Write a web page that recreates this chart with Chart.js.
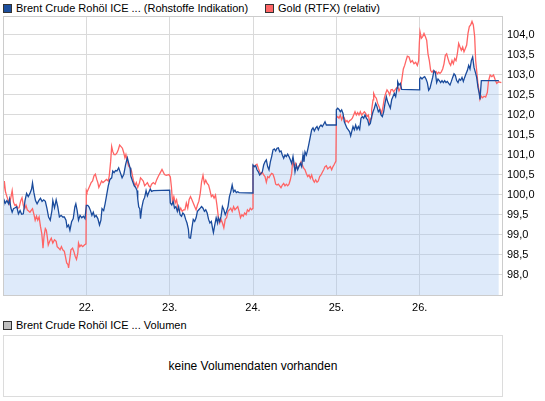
<!DOCTYPE html>
<html>
<head>
    <title>Brent Crude vs Gold</title>
    <script src="https://cdn.jsdelivr.net/npm/chart.js"></script>
    <style>
        body {
            margin: 0;
            width: 545px;
            height: 401px;
            background: #fff;
            font-family: "Liberation Sans", Arial, sans-serif;
            position: relative;
            overflow: hidden;
        }
        .legend {
            position: absolute;
            font-size: 11px;
            color: #000;
            white-space: nowrap;
            line-height: 12px;
        }
        .legend span.box {
            display: inline-block;
            width: 7px;
            height: 7px;
            border: 1px solid #333;
            vertical-align: -1px;
            margin-right: 4px;
        }
        #chartWrap {
            position: absolute;
            left: 0;
            top: 0;
        }
        #volBox {
            position: absolute;
            left: 3px;
            top: 335px;
            width: 498px;
            height: 60px;
            border: 1px solid #dcdcdc;
            font-size: 12px;
            text-align: center;
            line-height: 60px;
            color: #000;
        }
    </style>
</head>
<body>
    <div class="legend" style="left:3px; top:2px;">
        <span class="box" style="background:#1c4f9e;"></span>Brent Crude Rohöl ICE ... (Rohstoffe Indikation)
    </div>
    <div class="legend" style="left:265px; top:2px;">
        <span class="box" style="background:#ff6666;"></span>Gold (RTFX) (relativ)
    </div>

    <div id="chartWrap">
        <canvas id="priceChart" width="545" height="318"></canvas>
    </div>

    <div class="legend" style="left:3px; top:319px;">
        <span class="box" style="background:#c0c0c0;"></span>Brent Crude Rohöl ICE ... Volumen
    </div>
    <div id="volBox">keine Volumendaten vorhanden</div>

    <script>
        // x values are days of the month, y values relative performance
        const xTicks = [22, 23, 24, 25, 26];
        const yTicks = [98, 98.5, 99, 99.5, 100, 100.5, 101, 101.5, 102, 102.5, 103, 103.5, 104];

        const brentDays = [
            21.000, 21.016, 21.028, 21.047, 21.067, 21.079, 21.094, 21.110, 21.126, 21.146,
            21.165, 21.185, 21.205, 21.224, 21.244, 21.264, 21.283, 21.303, 21.323, 21.343,
            21.354, 21.370, 21.390, 21.409, 21.429, 21.449, 21.469, 21.488, 21.508, 21.528,
            21.547, 21.567, 21.587, 21.598, 21.618, 21.638, 21.657, 21.677, 21.697, 21.717,
            21.736, 21.756, 21.768, 21.787, 21.803, 21.823, 21.843, 21.862, 21.874, 21.890,
            21.906, 21.925, 21.945, 21.965, 21.984, 22.000, 22.017, 22.033, 22.050, 22.067,
            22.083, 22.100, 22.117, 22.138, 22.158, 22.175, 22.188, 22.208, 22.225, 22.242,
            22.263, 22.283, 22.304, 22.317, 22.333, 22.350, 22.367, 22.388, 22.408, 22.429,
            22.450, 22.471, 22.492, 22.508, 22.525, 22.533, 22.554, 22.575, 22.592, 22.608,
            22.617, 22.629, 22.642, 22.650, 22.667, 22.683, 22.700, 22.717, 22.733, 22.750,
            22.767, 22.783, 22.804, 23.000, 23.008, 23.025, 23.042, 23.058, 23.075, 23.092,
            23.108, 23.125, 23.142, 23.158, 23.175, 23.192, 23.208, 23.225, 23.233, 23.250,
            23.267, 23.283, 23.300, 23.317, 23.333, 23.350, 23.367, 23.383, 23.400, 23.417,
            23.433, 23.450, 23.467, 23.483, 23.500, 23.517, 23.525, 23.542, 23.558, 23.575,
            23.583, 23.600, 23.617, 23.633, 23.650, 23.667, 23.683, 23.700, 23.717, 23.733,
            23.750, 23.767, 23.783, 23.800, 23.817, 23.833, 24.000, 24.000, 24.016, 24.032,
            24.048, 24.064, 24.080, 24.096, 24.112, 24.128, 24.144, 24.160, 24.176, 24.192,
            24.208, 24.224, 24.240, 24.256, 24.272, 24.288, 24.304, 24.320, 24.336, 24.352,
            24.368, 24.384, 24.400, 24.416, 24.432, 24.448, 24.464, 24.480, 24.492, 24.504,
            24.520, 24.536, 24.552, 24.568, 24.584, 24.600, 24.612, 24.624, 24.640, 24.656,
            24.672, 24.688, 24.704, 24.720, 24.736, 24.752, 24.768, 24.784, 24.800, 24.816,
            24.832, 24.848, 24.864, 24.880, 25.000, 25.000, 25.016, 25.032, 25.048, 25.064,
            25.080, 25.096, 25.112, 25.128, 25.144, 25.160, 25.172, 25.184, 25.200, 25.216,
            25.232, 25.248, 25.264, 25.280, 25.296, 25.312, 25.328, 25.344, 25.360, 25.376,
            25.392, 25.408, 25.424, 25.440, 25.456, 25.472, 25.488, 25.504, 25.520, 25.536,
            25.552, 25.568, 25.584, 25.600, 25.616, 25.632, 25.648, 25.664, 25.680, 25.696,
            25.712, 25.728, 25.736, 25.752, 25.768, 25.784, 26.000, 26.000, 26.012, 26.028,
            26.044, 26.060, 26.076, 26.092, 26.108, 26.124, 26.140, 26.156, 26.172, 26.188,
            26.204, 26.220, 26.236, 26.252, 26.268, 26.284, 26.300, 26.316, 26.332, 26.348,
            26.364, 26.380, 26.396, 26.412, 26.428, 26.444, 26.460, 26.476, 26.492, 26.508,
            26.524, 26.540, 26.556, 26.572, 26.588, 26.604, 26.620, 26.636, 26.652, 26.668,
            26.684, 26.700, 26.716, 26.724, 26.740, 26.950
        ];
        const brentValues = [
            99.66, 99.86, 99.80, 99.86, 99.78, 99.90, 99.68, 99.57, 99.66, 99.68,
            99.71, 99.53, 99.61, 99.52, 99.53, 99.86, 100.04, 99.96, 100.04, 100.15,
            100.30, 100.07, 99.86, 99.78, 99.86, 99.92, 99.84, 99.88, 99.84, 99.66,
            99.45, 99.37, 99.61, 99.86, 99.68, 99.88, 99.71, 99.45, 99.49, 99.45,
            99.45, 99.37, 99.20, 99.25, 99.12, 99.33, 99.41, 99.70, 99.78, 99.61,
            99.37, 99.49, 99.43, 99.47, 99.41, 99.74, 99.74, 99.70, 99.61, 99.49,
            99.57, 99.45, 99.49, 99.41, 99.25, 99.37, 99.66, 99.61, 99.78, 99.98,
            100.23, 100.39, 100.43, 100.60, 100.56, 100.61, 100.60, 100.68, 100.56, 100.43,
            100.52, 100.76, 100.93, 100.80, 100.68, 100.48, 100.35, 100.23, 100.19, 100.11,
            99.90, 99.70, 99.66, 99.41, 99.70, 99.86, 99.94, 100.11, 99.98, 100.07,
            100.15, 100.09, 100.11, 100.12, 99.80, 99.75, 99.84, 99.67, 99.71, 99.59,
            99.71, 99.51, 99.47, 99.55, 99.51, 99.39, 99.30, 99.14, 98.93, 98.92,
            99.18, 99.39, 99.34, 99.43, 99.59, 99.63, 99.67, 99.71, 99.67, 99.59,
            99.63, 99.55, 99.39, 99.30, 99.34, 99.14, 99.06, 99.26, 99.43, 99.30,
            99.43, 99.34, 99.47, 99.71, 99.63, 99.51, 99.59, 99.71, 99.96, 100.08,
            100.25, 100.08, 100.12, 100.06, 100.08, 100.06, 100.05, 100.75, 100.71, 100.73,
            100.63, 100.58, 100.50, 100.54, 100.58, 100.75, 100.83, 100.88, 100.71, 100.63,
            100.83, 100.96, 101.13, 101.15, 101.10, 101.17, 101.18, 101.08, 101.10, 101.00,
            100.92, 101.00, 100.96, 101.02, 100.96, 100.88, 100.79, 100.96, 100.79, 100.58,
            100.75, 100.63, 100.71, 100.79, 100.71, 101.00, 100.83, 101.08, 101.00, 101.13,
            101.29, 101.46, 101.63, 101.68, 101.60, 101.67, 101.71, 101.63, 101.71, 101.75,
            101.71, 101.77, 101.83, 101.75, 101.75, 102.13, 102.17, 102.14, 102.08, 102.13,
            102.04, 101.83, 101.75, 101.67, 101.63, 101.58, 101.48, 101.58, 101.71, 101.63,
            101.75, 101.64, 101.71, 101.64, 101.92, 101.96, 101.92, 102.00, 101.92, 101.88,
            101.75, 101.79, 101.96, 102.08, 102.17, 102.29, 102.21, 102.08, 102.13, 102.00,
            101.96, 102.08, 102.29, 102.46, 102.33, 102.25, 102.17, 102.38, 102.46, 102.54,
            102.46, 102.67, 102.83, 102.75, 102.79, 102.64, 102.63, 102.90, 102.94, 102.90,
            102.94, 102.96, 102.90, 102.81, 102.62, 102.67, 102.81, 102.94, 103.11, 103.07,
            102.81, 102.90, 102.86, 102.81, 102.86, 102.81, 102.86, 102.81, 102.84, 102.79,
            102.75, 102.84, 102.94, 103.03, 102.99, 102.86, 102.81, 102.90, 102.87, 102.94,
            102.84, 102.94, 103.03, 103.11, 103.24, 103.15, 103.36, 103.45, 103.19, 103.07,
            102.94, 102.69, 102.52, 102.39, 102.86, 102.86
        ];

        const goldDays = [
            21.000, 21.016, 21.031, 21.047, 21.063, 21.079, 21.098, 21.110, 21.126, 21.142,
            21.157, 21.173, 21.193, 21.213, 21.228, 21.244, 21.260, 21.276, 21.291, 21.307,
            21.323, 21.343, 21.354, 21.374, 21.386, 21.402, 21.417, 21.433, 21.449, 21.465,
            21.472, 21.480, 21.492, 21.508, 21.520, 21.531, 21.543, 21.559, 21.579, 21.598,
            21.618, 21.638, 21.650, 21.669, 21.685, 21.701, 21.717, 21.736, 21.748, 21.764,
            21.780, 21.787, 21.803, 21.815, 21.835, 21.850, 21.866, 21.882, 21.898, 21.906,
            21.921, 21.937, 21.957, 21.976, 21.996, 22.000, 22.008, 22.025, 22.042, 22.058,
            22.075, 22.092, 22.108, 22.125, 22.138, 22.150, 22.167, 22.183, 22.200, 22.221,
            22.242, 22.263, 22.275, 22.292, 22.304, 22.317, 22.333, 22.350, 22.367, 22.383,
            22.400, 22.417, 22.433, 22.450, 22.463, 22.475, 22.492, 22.508, 22.525, 22.542,
            22.554, 22.567, 22.583, 22.600, 22.617, 22.638, 22.650, 22.667, 22.683, 22.700,
            22.717, 22.733, 22.750, 22.767, 22.783, 22.804, 22.825, 22.846, 22.867, 22.888,
            22.908, 22.938, 22.958, 22.992, 23.008, 23.021, 23.033, 23.050, 23.067, 23.083,
            23.100, 23.117, 23.133, 23.150, 23.167, 23.183, 23.200, 23.217, 23.233, 23.250,
            23.267, 23.283, 23.300, 23.317, 23.333, 23.350, 23.367, 23.383, 23.400, 23.417,
            23.433, 23.450, 23.467, 23.483, 23.500, 23.517, 23.533, 23.550, 23.567, 23.583,
            23.600, 23.617, 23.633, 23.650, 23.667, 23.683, 23.700, 23.717, 23.733, 23.750,
            23.767, 23.783, 23.800, 23.817, 23.833, 23.850, 23.867, 23.883, 23.900, 23.917,
            23.933, 23.950, 23.967, 23.983, 24.000, 24.000, 24.016, 24.032, 24.048, 24.064,
            24.080, 24.096, 24.112, 24.128, 24.144, 24.160, 24.176, 24.192, 24.208, 24.224,
            24.240, 24.256, 24.272, 24.288, 24.304, 24.320, 24.336, 24.352, 24.368, 24.384,
            24.400, 24.416, 24.432, 24.448, 24.464, 24.472, 24.480, 24.496, 24.512, 24.528,
            24.544, 24.560, 24.576, 24.592, 24.608, 24.624, 24.640, 24.656, 24.672, 24.688,
            24.704, 24.720, 24.736, 24.752, 24.768, 24.784, 24.800, 24.816, 24.832, 24.848,
            24.864, 24.880, 24.896, 24.912, 24.928, 24.944, 24.960, 24.976, 24.995, 25.000,
            25.016, 25.032, 25.048, 25.064, 25.080, 25.096, 25.112, 25.128, 25.144, 25.160,
            25.176, 25.192, 25.208, 25.224, 25.240, 25.256, 25.272, 25.288, 25.304, 25.320,
            25.336, 25.352, 25.368, 25.384, 25.400, 25.416, 25.424, 25.440, 25.448, 25.464,
            25.480, 25.496, 25.512, 25.528, 25.544, 25.560, 25.576, 25.592, 25.608, 25.624,
            25.640, 25.656, 25.672, 25.688, 25.704, 25.720, 25.736, 25.752, 25.772, 25.792,
            25.804, 25.820, 25.836, 25.852, 25.872, 25.892, 25.912, 25.932, 25.952, 25.972,
            25.988, 25.996, 26.004, 26.020, 26.036, 26.052, 26.068, 26.084, 26.100, 26.116,
            26.132, 26.148, 26.164, 26.180, 26.196, 26.212, 26.228, 26.244, 26.260, 26.276,
            26.292, 26.308, 26.324, 26.340, 26.356, 26.372, 26.388, 26.404, 26.420, 26.436,
            26.452, 26.468, 26.484, 26.500, 26.516, 26.532, 26.548, 26.564, 26.580, 26.596,
            26.612, 26.628, 26.644, 26.660, 26.672, 26.684, 26.700, 26.716, 26.724, 26.740,
            26.756, 26.772, 26.792, 26.812, 26.826, 26.846, 26.866, 26.886, 26.906, 26.925,
            26.946, 26.980
        ];
        const goldValues = [
            99.94, 100.35, 100.07, 99.96, 99.86, 99.78, 99.98, 100.11, 99.82, 99.74,
            99.76, 99.67, 99.68, 99.86, 99.93, 99.74, 99.66, 99.74, 99.63, 99.60,
            99.57, 99.63, 99.66, 99.49, 99.37, 99.47, 99.37, 99.45, 99.22, 99.04,
            98.88, 98.67, 98.96, 99.16, 99.12, 98.96, 98.75, 98.84, 98.92, 98.80,
            98.88, 98.84, 98.71, 98.67, 98.63, 98.71, 98.63, 98.59, 98.47, 98.30,
            98.26, 98.18, 98.43, 98.63, 98.67, 98.59, 98.47, 98.39, 98.55, 98.80,
            98.71, 98.75, 98.71, 98.75, 98.78, 100.11, 100.07, 100.15, 100.23, 100.31,
            100.35, 100.48, 100.52, 100.39, 100.31, 100.19, 100.27, 100.35, 100.31, 100.35,
            100.39, 100.35, 100.48, 100.84, 101.21, 101.09, 101.01, 101.01, 101.05, 101.13,
            101.25, 101.21, 101.17, 101.05, 100.93, 101.01, 100.84, 100.72, 100.68, 100.60,
            100.48, 100.35, 100.23, 100.31, 100.19, 100.31, 100.43, 100.39, 100.35, 100.23,
            100.27, 100.31, 100.23, 100.19, 100.27, 100.31, 100.27, 100.39, 100.48, 100.56,
            100.64, 100.51, 100.49, 100.51, 100.45, 100.20, 99.84, 99.96, 99.80, 99.88,
            99.67, 99.59, 99.67, 99.59, 99.63, 99.63, 99.80, 99.67, 99.88, 99.96,
            99.88, 99.80, 99.71, 99.63, 99.75, 99.84, 100.04, 100.33, 100.49, 100.29,
            100.37, 100.29, 100.25, 100.12, 99.96, 100.00, 99.92, 100.00, 99.75, 99.47,
            99.30, 99.39, 99.30, 99.18, 99.39, 99.43, 99.59, 99.63, 99.67, 99.59,
            99.71, 99.63, 99.67, 99.71, 99.59, 99.43, 99.51, 99.47, 99.55, 99.51,
            99.63, 99.59, 99.67, 99.63, 99.67, 100.73, 100.71, 100.75, 100.77, 100.67,
            100.58, 100.52, 100.57, 100.50, 100.46, 100.32, 100.46, 100.43, 100.50, 100.54,
            100.52, 100.42, 100.27, 100.25, 100.27, 100.23, 100.18, 100.25, 100.29, 100.23,
            100.27, 100.23, 100.27, 100.38, 100.54, 100.75, 100.83, 100.71, 100.79, 100.67,
            100.71, 100.75, 100.83, 100.75, 100.67, 100.63, 100.54, 100.46, 100.50, 100.42,
            100.50, 100.38, 100.32, 100.38, 100.32, 100.35, 100.46, 100.50, 100.57, 100.63,
            100.71, 100.73, 100.65, 100.68, 100.71, 100.63, 100.71, 100.77, 100.85, 101.92,
            101.96, 101.92, 102.00, 101.88, 101.96, 101.92, 101.83, 101.86, 101.81, 101.86,
            101.88, 101.92, 102.00, 102.08, 102.00, 102.06, 102.00, 102.08, 102.00, 102.04,
            102.08, 102.04, 101.96, 102.00, 101.83, 101.92, 102.13, 102.38, 102.54, 102.46,
            102.42, 102.29, 102.21, 102.13, 102.04, 102.21, 102.42, 102.54, 102.63, 102.58,
            102.50, 102.63, 102.64, 102.58, 102.63, 102.67, 102.71, 102.60, 102.69, 102.98,
            103.15, 103.24, 103.36, 103.47, 103.45, 103.32, 103.36, 103.28, 103.32, 103.24,
            103.36, 103.79, 104.08, 103.92, 103.96, 104.04, 103.96, 103.87, 103.53, 103.36,
            103.11, 103.07, 103.11, 103.07, 103.09, 103.03, 103.07, 103.04, 103.08, 103.15,
            103.28, 103.49, 103.53, 103.41, 103.30, 103.24, 103.36, 103.28, 103.41, 103.36,
            103.53, 103.79, 103.70, 103.62, 103.70, 103.58, 103.66, 103.75, 104.04, 104.21,
            104.25, 104.34, 104.25, 103.96, 103.36, 103.11, 102.77, 102.56, 102.39, 102.47,
            102.43, 102.47, 102.45, 102.56, 102.85, 103.00, 102.96, 103.00, 102.88, 102.79,
            102.83, 102.81
        ];

        const blueLine = '#1a4b9c';
        const redLine = '#ff6464';
        const gridColor = '#dadada';
        const tickFont = { family: '"Liberation Sans", Arial, sans-serif', size: 11 };

        function toPoints(xs, ys) {
            return xs.map((x, i) => ({ x: x, y: ys[i] }));
        }

        // plot frame on all four sides
        const framePlugin = {
            id: 'frame',
            afterDraw(chart) {
                const a = chart.chartArea;
                const g = chart.ctx;
                g.save();
                g.strokeStyle = '#cccccc';
                g.lineWidth = 1;
                g.strokeRect(Math.round(a.left) + 0.5, Math.round(a.top) + 0.5,
                    Math.round(a.right - a.left) - 1, Math.round(a.bottom - a.top) - 1);
                g.restore();
            }
        };

        const ctx = document.getElementById('priceChart').getContext('2d');
        const chart = new Chart(ctx, {
            type: 'line',
            data: {
                datasets: [{
                    label: 'Brent Crude Rohöl ICE ... (Rohstoffe Indikation)',
                    data: toPoints(brentDays, brentValues),
                    borderColor: blueLine,
                    borderWidth: 1.3,
                    backgroundColor: 'rgba(160, 195, 240, 0.35)',
                    fill: 'start',
                    pointRadius: 0,
                    tension: 0,
                    order: 1
                },
                {
                    label: 'Gold (RTFX) (relativ)',
                    data: toPoints(goldDays, goldValues),
                    borderColor: redLine,
                    borderWidth: 1.3,
                    fill: false,
                    pointRadius: 0,
                    tension: 0,
                    order: 2
                }]
            },
            options: {
                responsive: false,
                animation: false,
                layout: { padding: { left: 3, top: 16, right: 0, bottom: 0 } },
                plugins: {
                    legend: { display: false },
                    tooltip: { enabled: false },
                    filler: { drawTime: 'beforeDatasetsDraw' }
                },
                scales: {
                    x: {
                        type: 'linear',
                        min: 21,
                        max: 27,
                        afterBuildTicks: s => { s.ticks = xTicks.map(v => ({ value: v })); },
                        afterFit: s => { s.height = 22; },
                        grid: { color: gridColor, drawTicks: false },
                        border: { display: false },
                        ticks: {
                            padding: 5,
                            color: '#000',
                            font: tickFont,
                            maxRotation: 0,
                            callback: v => v + '.'
                        }
                    },
                    y: {
                        position: 'right',
                        min: 97.475,
                        max: 104.475,
                        afterBuildTicks: s => { s.ticks = yTicks.map(v => ({ value: v })); },
                        afterFit: s => { s.width = 42; },
                        grid: { color: gridColor, drawTicks: false },
                        border: { display: false },
                        ticks: {
                            padding: 4,
                            color: '#000',
                            font: tickFont,
                            callback: v => v.toFixed(1).replace('.', ',')
                        }
                    }
                }
            },
            plugins: [framePlugin]
        });
    </script>
</body>
</html>
